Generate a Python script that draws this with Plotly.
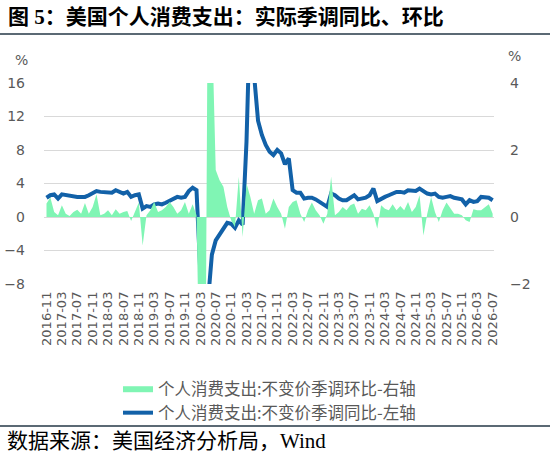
import plotly.graph_objects as go
import pandas as pd

# Monthly categories 2016-11 .. 2026-07
months = [d.strftime("%Y-%m") for d in pd.date_range("2016-11-01", "2026-07-01", freq="MS")]

# 个人消费支出:不变价季调同比 (%), left axis
yoy = [2.3, 2.6, 2.7, 2.2, 2.7, 2.6, 2.5, 2.5, 2.4, 2.4,
       2.4, 2.6, 2.9, 3.1, 3.0, 3.0, 2.9, 2.9, 3.2, 3.0,
       2.8, 3.0, 2.4, 2.6, 2.7, 1.0, 1.3, 1.2, 1.5, 1.6,
       1.5, 1.7, 1.9, 2.1, 2.4, 2.3, 2.4, 3.1, 3.5, 3.2,
       -6.5, -16.5, -10.0, -4.5, -2.8, -2.1, -1.6, -0.7, -0.8, -1.3,
       -0.4, -0.9, 9.0, 25.5, 16.8, 11.5, 9.8, 8.6, 7.8, 7.4,
       8.0, 7.6, 6.3, 7.0, 3.2, 2.9, 2.9, 2.2, 2.3, 2.3,
       2.1, 1.8, 1.5, 1.2, 2.8, 2.6, 2.2, 2.0, 2.0, 2.3,
       2.6, 2.1, 2.2, 2.3, 2.6, 3.4, 1.9, 2.2, 2.4, 2.6,
       2.8, 3.0, 3.0, 2.9, 3.2, 3.2, 3.1, 3.4, 3.1, 2.8,
       2.7, 2.8, 2.4, 2.3, 2.4, 2.5, 2.3, 2.2, 2.1, 1.5,
       2.0, 1.8, 1.9, 2.4, 2.4, 2.3, 2.0]

# 个人消费支出:不变价季调环比 (%), right axis
mom = [0.40, 0.58, 0.15, 0.05, 0.35, 0.10, 0.03, 0.15, 0.22, 0.10,
       0.42, 0.10, 0.30, 0.68, 0.05, 0.10, 0.20, 0.05, 0.23, 0.10,
       0.15, 0.18, -0.12, 0.15, 0.43, -0.85, 0.05, 0.20, 0.45, 0.15,
       0.20, 0.30, 0.45, 0.30, 0.10, 0.20, 0.45, 0.10, 0.38, 0.05,
       -6.8, -12.3, 8.5, 5.9, 1.40, 1.10, 0.90, 0.30, -0.10, -0.30,
       1.20, -0.60, 1.00, 0.60, 0.10, 0.50, 0.55, 0.10, 0.20, 0.55,
       0.30, 0.10, -0.35, 0.30, 0.45, 0.50, 0.10, -0.15, 0.20, 0.43,
       0.20, 0.05, -0.20, 0.10, 1.20, 0.05, 0.15, 0.30, 0.20, 0.35,
       0.40, 0.10, 0.25, 0.20, 0.35, 0.10, -0.35, 0.35, 0.25, 0.20,
       0.38, 0.20, 0.33, 0.20, 0.45, 0.15, 0.30, 0.65, -0.55, 0.10,
       0.60, 0.15, -0.15, 0.20, 0.43, 0.25, 0.10, 0.10, 0.05, -0.10,
       -0.15, 0.23, 0.20, 0.20, 0.30, 0.38, 0.10]

left_ticks = [-8, -4, 0, 4, 8, 12, 16]
right_ticks = [-2, 0, 2, 4]

idx = list(range(len(months)))
tick_idx = idx[::4]
tick_txt = months[::4]

W, H = 550, 456
ML, MR, MT, MB = 44, 56, 83, 172
PW, PH = W - ML - MR, H - MT - MB

def px(x):
    return (x - ML) / PW

def py(y):
    return (H - MB - y) / PH

GRAY = "#595959"
SERIF = "Liberation Serif, Noto Sans CJK SC, serif"
CJK = "Noto Sans CJK SC, sans-serif"
NUM = "DejaVu Sans, sans-serif"

fig = go.Figure()
fig.add_trace(go.Scatter(
    x=idx, y=mom, yaxis="y2", mode="lines", fill="tozeroy",
    line=dict(width=0, color="#80F5B4"), fillcolor="#80F5B4",
    name="个人消费支出:不变价季调环比-右轴"))
fig.add_trace(go.Scatter(
    x=idx, y=yoy, mode="lines",
    line=dict(width=4, color="#1261A8"),
    name="个人消费支出:不变价季调同比-左轴"))

xr = [-0.65, len(months) - 1 + 0.35]
fig.update_layout(
    width=W, height=H,
    margin=dict(l=ML, r=MR, t=MT, b=MB, autoexpand=False),
    plot_bgcolor="white", paper_bgcolor="white",
    showlegend=True,
    legend=dict(x=px(118), y=py(371), xanchor="left", yanchor="top",
                orientation="v",
                font=dict(family=CJK, size=16.5, color=GRAY),
                bgcolor="rgba(0,0,0,0)", tracegroupgap=0),
    xaxis=dict(range=xr, tickmode="array", tickvals=tick_idx, ticktext=tick_txt,
               tickangle=-90, showgrid=False, zeroline=False, showline=False,
               ticks="", ticklabelstandoff=4,
               tickfont=dict(family=NUM, size=13, color=GRAY)),
    xaxis2=dict(range=xr, overlaying="x", anchor="free",
                position=(0 - left_ticks[0]) / (left_ticks[-1] - left_ticks[0]),
                tickmode="array", tickvals=tick_idx, showticklabels=False,
                ticks="outside", ticklen=5, tickcolor="#bfbfbf",
                showline=True, linecolor="#bfbfbf", linewidth=1,
                showgrid=False, zeroline=False),
    yaxis=dict(range=[left_ticks[0], left_ticks[-1]], tickmode="array", tickvals=left_ticks,
               showgrid=True, gridcolor="#d9d9d9", gridwidth=1, zeroline=False,
               showline=False, ticks="", ticklabelstandoff=18,
               tickfont=dict(family=NUM, size=14, color=GRAY)),
    yaxis2=dict(range=[right_ticks[0], right_ticks[-1]], tickmode="array", tickvals=right_ticks,
                overlaying="y", side="right", showgrid=False, zeroline=False,
                showline=False, ticks="", ticklabelstandoff=15,
                tickfont=dict(family=NUM, size=14, color=GRAY)),
    title=dict(text="<b>图 5：美国个人消费支出：实际季调同比、环比</b>",
               x=8 / W, xanchor="left", xref="container",
               y=1 - 17 / H, yanchor="middle", yref="container",
               font=dict(family=SERIF, size=21, color="#000000")),
)

fig.add_shape(type="line", xref="paper", yref="paper",
              x0=px(0), x1=px(W), y0=py(34), y1=py(34),
              line=dict(color="#253746", width=1.5))
fig.add_shape(type="line", xref="paper", yref="paper",
              x0=px(0), x1=px(W), y0=py(426), y1=py(426),
              line=dict(color="#253746", width=1.5))

fig.add_annotation(text="%", xref="paper", yref="paper", x=px(21), y=py(60),
                   xanchor="center", yanchor="middle",
                   showarrow=False, font=dict(family=NUM, size=14, color=GRAY))
fig.add_annotation(text="%", xref="paper", yref="paper", x=px(514), y=py(56),
                   xanchor="center", yanchor="middle",
                   showarrow=False, font=dict(family=NUM, size=14, color=GRAY))
fig.add_annotation(text="数据来源：美国经济分析局，Wind", xref="paper", yref="paper",
                   x=px(5), y=py(441), xanchor="left", yanchor="middle",
                   showarrow=False, font=dict(family=SERIF, size=21, color="#000000"))

fig.write_html("out.html", config={"displayModeBar": False},
               post_script="document.body.style.margin='0';")
